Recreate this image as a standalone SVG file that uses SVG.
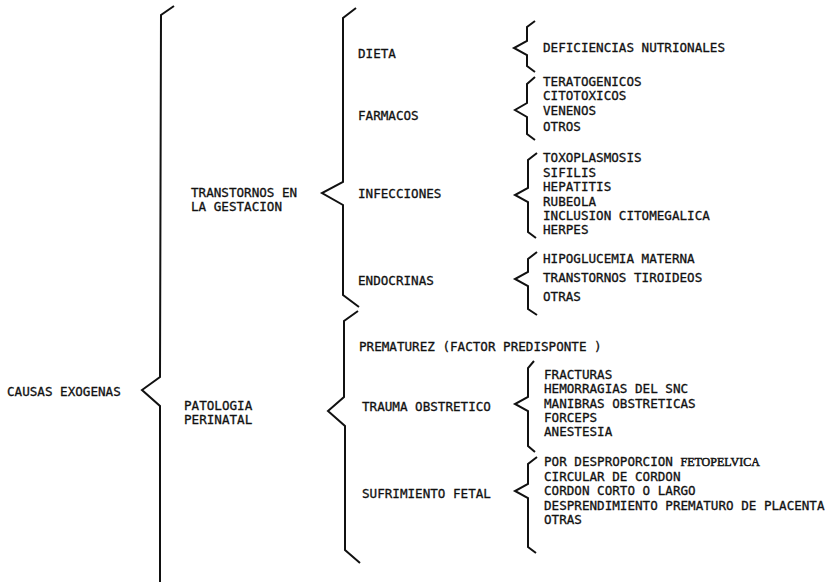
<svg xmlns="http://www.w3.org/2000/svg" width="832" height="582" viewBox="0 0 832 582">
<style>
.t{font-family:"DejaVu Sans Mono","Liberation Mono",monospace;font-size:12.6px;fill:#111;stroke:#111;stroke-width:0.3px;}
.b{fill:none;stroke:#111;stroke-width:2;stroke-linejoin:miter;stroke-linecap:butt;}
</style>
<rect width="832" height="582" fill="#fff"/>
<g id="connectors">
<path class="b" d="M174,6 L161,15 L160,377 L142,390 L160,406 L160,582"/>
<path class="b" d="M356,8 L343,18 L343,182 L322,193 L343,205 L343,295 L359,307"/>
<path class="b" d="M358,311 L344,321 L344,397 L328,411 L345,426 L345,550 L360,563"/>
<path class="b" d="M535,21 L527,27 L527,41 L514,48 L527,55 L527,66 L535,72"/>
<path class="b" d="M535,77 L527,84 L527,103 L515,110 L527,117 L527,134 L535,140"/>
<path class="b" d="M537,153 L528,160 L528,188 L515,195 L528,202 L528,232 L536,238"/>
<path class="b" d="M537,252 L528,259 L528,272 L515,279 L528,286 L528,309 L537,315"/>
<path class="b" d="M534,361 L528,368 L528,397 L515,404 L528,411 L528,446 L535,452"/>
<path class="b" d="M537,457 L528,464 L528,484 L515,491 L528,498 L528,547 L536,553"/>
</g>
<g id="causas"><text class="t" x="7" y="396">CAUSAS EXOGENAS</text></g>
<g id="transtornos"><text class="t" x="191" y="197">TRANSTORNOS EN</text><text class="t" x="191" y="211">LA GESTACION</text></g>
<g id="patologia"><text class="t" x="184" y="410">PATOLOGIA</text><text class="t" x="184" y="424">PERINATAL</text></g>
<g id="dieta"><text class="t" x="358" y="58">DIETA</text></g>
<g id="farmacos"><text class="t" x="358" y="120">FARMACOS</text></g>
<g id="infecciones"><text class="t" x="358" y="198">INFECCIONES</text></g>
<g id="endocrinas"><text class="t" x="358" y="285">ENDOCRINAS</text></g>
<g id="prematurez"><text class="t" x="359" y="351">PREMATUREZ (FACTOR PREDISPONTE )</text></g>
<g id="trauma"><text class="t" x="362" y="411">TRAUMA OBSTRETICO</text></g>
<g id="sufrimiento"><text class="t" x="362" y="498">SUFRIMIENTO FETAL</text></g>
<g id="dieta-items"><text class="t" x="543" y="52">DEFICIENCIAS NUTRIONALES</text></g>
<g id="farmacos-items">
<text class="t" x="543" y="86">TERATOGENICOS</text>
<text class="t" x="543" y="100">CITOTOXICOS</text>
<text class="t" x="543" y="115">VENENOS</text>
<text class="t" x="543" y="131">OTROS</text>
</g>
<g id="infecciones-items">
<text class="t" x="543" y="162">TOXOPLASMOSIS</text>
<text class="t" x="543" y="177">SIFILIS</text>
<text class="t" x="543" y="191">HEPATITIS</text>
<text class="t" x="543" y="206">RUBEOLA</text>
<text class="t" x="543" y="220">INCLUSION CITOMEGALICA</text>
<text class="t" x="543" y="234">HERPES</text>
</g>
<g id="endocrinas-items">
<text class="t" x="543" y="263">HIPOGLUCEMIA MATERNA</text>
<text class="t" x="543" y="282">TRANSTORNOS TIROIDEOS</text>
<text class="t" x="543" y="301">OTRAS</text>
</g>
<g id="trauma-items">
<text class="t" x="544" y="379">FRACTURAS</text>
<text class="t" x="544" y="393">HEMORRAGIAS DEL SNC</text>
<text class="t" x="544" y="408">MANIBRAS OBSTRETICAS</text>
<text class="t" x="544" y="422">FORCEPS</text>
<text class="t" x="544" y="436">ANESTESIA</text>
</g>
<g id="sufrimiento-items">
<text class="t" x="544" y="466">POR DESPROPORCION <tspan font-family="Liberation Serif, serif" font-size="12" stroke-width="0.5">FETOPELVICA</tspan></text>
<text class="t" x="544" y="481">CIRCULAR DE CORDON</text>
<text class="t" x="544" y="495">CORDON CORTO O LARGO</text>
<text class="t" x="544" y="510">DESPRENDIMIENTO PREMATURO DE PLACENTA</text>
<text class="t" x="544" y="524">OTRAS</text>
</g>
</svg>
